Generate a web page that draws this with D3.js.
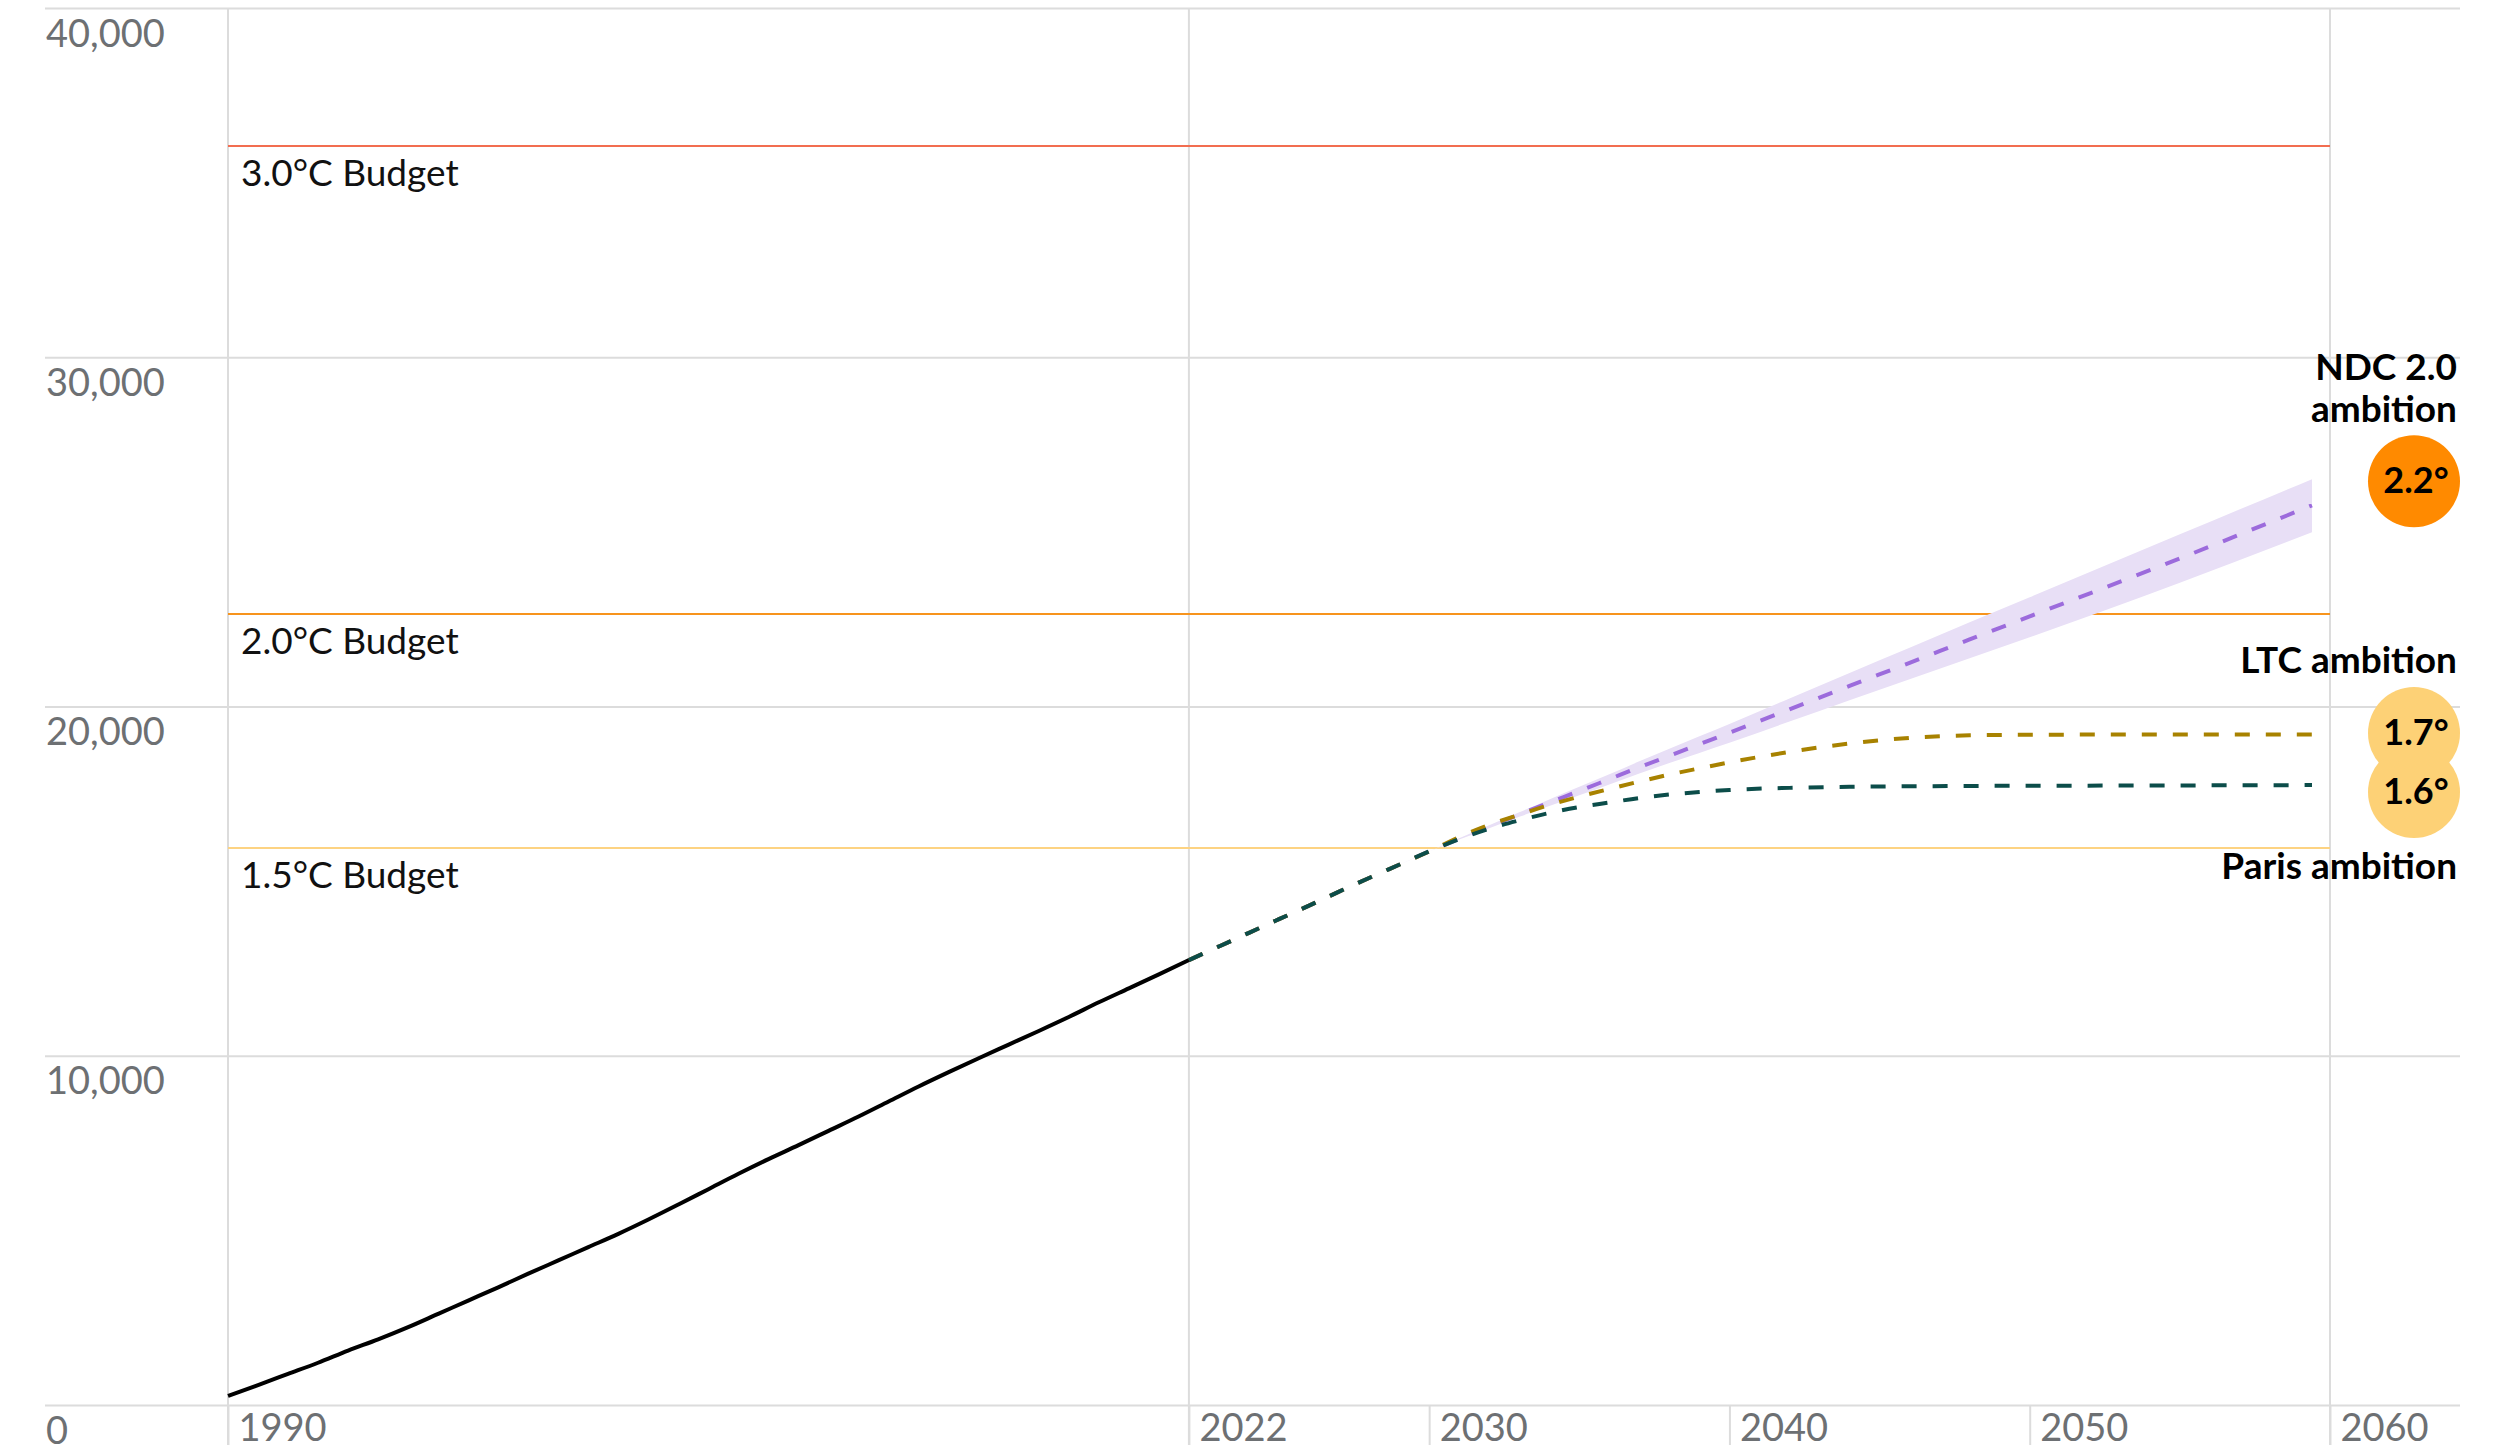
<!DOCTYPE html>
<html>
<head>
<meta charset="utf-8">
<script src="https://cdn.jsdelivr.net/npm/d3@7"></script>
<style>
  body { margin: 0; background: #fff; }
  #graf { width: 2500px; height: 1451px; }
  text { font-family: Lato, 'Open Sans', sans-serif; }
  .eje text { fill: #6d7073; font-size: 38px; }
  .eje line { stroke: #dcdcdc; stroke-width: 2px; }
  .budget { font-size: 37px; fill: #111; }
  .anota { font-size: 37px; font-weight: 700; fill: #000; }
</style>
</head>
<body>
<div id="graf"></div>
<script>
// I. Datos
histYears = [1990, 1991, 1992, 1993, 1994, 1995, 1996, 1997, 1998, 1999, 2000,
             2001, 2002, 2003, 2004, 2005, 2006, 2007, 2008, 2009, 2010, 2011,
             2012, 2013, 2014, 2015, 2016, 2017, 2018, 2019, 2020, 2021, 2022]
histValues = [260, 570, 890, 1210, 1560, 1880, 2230, 2610, 2990, 3370, 3760,
              4140, 4520, 4900, 5310, 5740, 6180, 6620, 7040, 7440, 7850, 8260,
              8690, 9120, 9530, 9930, 10320, 10710, 11110, 11530, 11930, 12330, 12740]

projYears = [2022, 2023, 2024, 2025, 2026, 2027, 2028, 2029, 2030, 2031, 2032, 2033,
             2034, 2035, 2036, 2037, 2038, 2039, 2040, 2042, 2044, 2046, 2048, 2050,
             2055, 2059.4]
parisValues = [12740, 13130, 13520, 13910, 14300, 14700, 15090, 15470, 15850, 16200, 16500, 16740,
               16950, 17120, 17250, 17380, 17480, 17550, 17610, 17670, 17700, 17715, 17725, 17730,
               17740, 17750]
ltcValues = [12740, 13130, 13520, 13910, 14300, 14700, 15090, 15470, 15850, 16260, 16610, 16900,
             17180, 17420, 17640, 17850, 18050, 18230, 18400, 18700, 18940, 19100, 19175, 19190,
             19200, 19200]
ndcValues = [12740, 13130, 13520, 13910, 14300, 14700, 15090, 15470, 15850, 16210, 16560, 16910,
             17250, 17580, 17920, 18260, 18590, 18920, 19250, 19920, 20590, 21250, 21920, 22580,
             24240, 25760]
ndcHigh = [12740, 13130, 13520, 13910, 14300, 14700, 15090, 15470, 15850, 16230, 16600, 16970,
           17340, 17700, 18060, 18430, 18790, 19145, 19500, 20230, 20960, 21680, 22410, 23130,
           24930, 26510]
ndcLow = [12740, 13130, 13520, 13910, 14300, 14700, 15090, 15470, 15850, 16190, 16515, 16840,
          17150, 17460, 17770, 18080, 18380, 18670, 18960, 19570, 20180, 20780, 21380, 21980,
          23540, 24990]

budgetValues = [36050, 22650, 15950]
budgetLabels = ['3.0°C Budget', '2.0°C Budget', '1.5°C Budget']

yTicks = [0, 10000, 20000, 30000, 40000]
xTicks = [1990, 2022, 2030, 2040, 2050, 2060]
xFullLines = [1990, 2022, 2060]

// valores de las burbujas (posición vertical) y sus textos
bubbleValues = [26450, 19240, 17550]
bubbleTexts = ['2.2°', '1.7°', '1.6°']

// II. Configuración
ancho_total = 2500
alto_total = 1451

svg = d3.select('#graf').append('svg')
        .attr('width', ancho_total)
        .attr('height', alto_total)

x = d3.scaleLinear()
      .domain([1990, 2060])
      .range([228, 2330])

y = d3.scaleLinear()
      .domain([0, 40000])
      .range([1405, 8])

// III. Ejes
gridLeft = 45
gridRight = 2460

yAxisCall = d3.axisRight(y)
              .tickValues(yTicks)
              .tickSize(gridRight - gridLeft)
              .tickFormat(d3.format(','))
yAxisGroup = svg.append('g')
                .attr('class', 'eje')
                .attr('transform', `translate(${ gridLeft }, 0)`)
                .call(yAxisCall)
yAxisGroup.select('.domain').remove()
yAxisGroup.selectAll('text')
          .attr('x', 1)
          .attr('y', 38)
          .attr('dy', null)
          .attr('text-anchor', 'start')

xAxisCall = d3.axisBottom(x)
              .tickValues(xTicks)
              .tickSize(40)
              .tickFormat(d3.format('d'))
xAxisGroup = svg.append('g')
                .attr('class', 'eje')
                .attr('transform', `translate(0, ${ y(0) })`)
                .call(xAxisCall)
xAxisGroup.select('.domain').remove()
xAxisGroup.selectAll('text')
          .attr('x', 10)
          .attr('y', 36)
          .attr('dy', null)
          .attr('text-anchor', 'start')

svg.append('g')
   .attr('class', 'eje')
   .selectAll('line')
   .data(xFullLines)
   .enter()
   .append('line')
     .attr('x1', d => x(d))
     .attr('x2', d => x(d))
     .attr('y1', y(40000))
     .attr('y2', y(0) + 40)

// IV. Presupuestos de carbono
budgetColor = d3.scaleOrdinal()
                .domain(budgetLabels)
                .range(['#f26d50', '#f7941d', '#fdd382'])

budgets = svg.append('g')
budgets.selectAll('line')
       .data(budgetValues)
       .enter()
       .append('line')
         .attr('x1', x(1990))
         .attr('x2', x(2060))
         .attr('y1', d => y(d))
         .attr('y2', d => y(d))
         .style('stroke', (d, i) => budgetColor(budgetLabels[i]))
         .style('stroke-width', '2px')

budgets.selectAll('text')
       .data(budgetValues)
       .enter()
       .append('text')
         .attr('class', 'budget')
         .attr('x', x(1990) + 13)
         .attr('y', d => y(d) + 40)
         .text((d, i) => budgetLabels[i])

// V. Series
linea = d3.line()
          .x(d => x(d.year))
          .y(d => y(d.value))
          .curve(d3.curveMonotoneX)

area = d3.area()
         .x(d => x(d.year))
         .y0(d => y(d.low))
         .y1(d => y(d.high))
         .curve(d3.curveMonotoneX)

bandData = projYears.map((yr, i) => ({ year: yr, low: ndcLow[i], high: ndcHigh[i] }))

svg.append('path')
   .datum(bandData)
   .attr('d', area)
   .style('fill', '#e8dff6')

series = [
  { values: ndcValues, color: '#9c6bdc' },
  { values: ltcValues, color: '#a88200' },
  { values: parisValues, color: '#0c4d4a' }
]

series.forEach(s => {
  svg.append('path')
     .datum(projYears.map((yr, i) => ({ year: yr, value: s.values[i] })))
     .attr('d', linea)
     .style('fill', 'none')
     .style('stroke', s.color)
     .style('stroke-width', '4px')
     .style('stroke-dasharray', '15,16')
})

svg.append('path')
   .datum(histYears.map((yr, i) => ({ year: yr, value: histValues[i] })))
   .attr('d', linea)
   .style('fill', 'none')
   .style('stroke', '#000')
   .style('stroke-width', '4px')

// VI. Anotaciones
bubbleX = x(2060) + 84
textRight = 2457

anotaciones = svg.append('g')

anotaciones.append('text')
           .attr('class', 'anota')
           .attr('x', textRight)
           .attr('y', y(bubbleValues[0]) - 101)
           .attr('text-anchor', 'end')
           .text('NDC 2.0')
anotaciones.append('text')
           .attr('class', 'anota')
           .attr('x', textRight)
           .attr('y', y(bubbleValues[0]) - 59)
           .attr('text-anchor', 'end')
           .text('ambition')
anotaciones.append('text')
           .attr('class', 'anota')
           .attr('x', textRight)
           .attr('y', y(bubbleValues[1]) - 60)
           .attr('text-anchor', 'end')
           .text('LTC ambition')
anotaciones.append('text')
           .attr('class', 'anota')
           .attr('x', textRight)
           .attr('y', y(bubbleValues[2]) + 87)
           .attr('text-anchor', 'end')
           .text('Paris ambition')

bubbleColor = ['#ff8a00', '#fdd176', '#fdd176']

anotaciones.selectAll('circle')
           .data(bubbleValues)
           .enter()
           .append('circle')
             .attr('cx', bubbleX)
             .attr('cy', d => y(d))
             .attr('r', 46)
             .style('fill', (d, i) => bubbleColor[i])

anotaciones.selectAll('.burbuja')
           .data(bubbleValues)
           .enter()
           .append('text')
             .attr('class', 'anota burbuja')
             .attr('x', bubbleX + 2)
             .attr('y', d => y(d) + 12)
             .attr('text-anchor', 'middle')
             .style('font-size', '36px')
             .text((d, i) => bubbleTexts[i])
</script>
</body>
</html>
